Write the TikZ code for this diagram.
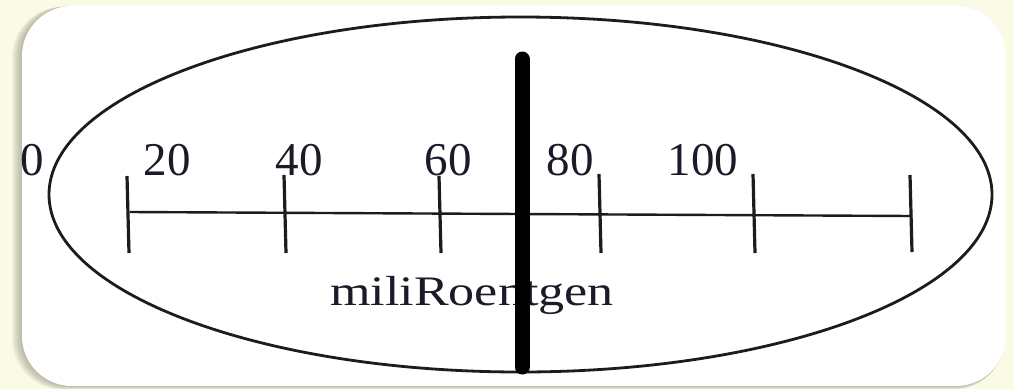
\documentclass[tikz,border=0pt]{standalone}
\usepackage{fontspec}
\setmainfont{Liberation Serif}
\definecolor{bgcream}{HTML}{FAFAE6}
\definecolor{shadowc}{HTML}{8A8A78}
\definecolor{inkc}{HTML}{1A1A28}
\definecolor{linec}{HTML}{1C1C1C}
\begin{document}
\begin{tikzpicture}[x=1pt,y=-1pt,
  tickline/.style={line width=3.2pt,draw=linec},
  axisline/.style={line width=2.4pt,draw=linec},
  numlabel/.style={font=\fontsize{47}{47}\selectfont,text=inkc,anchor=base,inner sep=0pt},
  unitlabel/.style={font=\fontsize{42}{42}\selectfont,text=inkc,anchor=base,inner sep=0pt,xscale=1.24},
  needle/.style={line width=15pt,line cap=round,draw=black}]
\useasboundingbox (0,0) rectangle (1014,389);
\fill[bgcream] (0,0) rectangle (1014,389);
% shadow
\foreach \i in {1,...,10}{
  \fill[shadowc,opacity=0.07,rounded corners=50pt] ({22-\i*1.0},{6+\i*0.1}) rectangle ({1006-\i*0.2},{386+\i*0.35});
}
\fill[white,rounded corners=50pt] (22,6) rectangle (1006,386);
% dial ellipse
\draw[line width=2.8pt,draw=linec] (520.5,194.5) ellipse [x radius=471.5, y radius=177.5];
% axis
\coordinate (a0) at (130,212);
\coordinate (a6) at (912,216);
\draw[axisline] (a0) -- (a6);
\foreach \n/\x/\yt/\yb in {t0/128/176/253, t1/285/175/253, t2/440/176/253, t3/600/174/253, t4/754/174/253, t5/911/175/252}{
  \coordinate (\n top) at ({\x-1},\yt);
  \coordinate (\n bot) at ({\x+1},\yb);
  \draw[tickline] (\n top) -- (\n bot);
}
% labels
\node[numlabel] (l0) at (32,175) {0};
\node[numlabel] (l20) at (167,175) {20};
\node[numlabel] (l40) at (299,175) {40};
\node[numlabel] (l60) at (448,175) {60};
\node[numlabel] (l80) at (570,175) {80};
\node[numlabel] (l100) at (703,175) {100};
\node[unitlabel] (unit) at (472,305) {miliRoentgen};
% needle
\coordinate (ntop) at (522,59);
\coordinate (nbot) at (522,367);
\draw[needle] (ntop) -- (nbot);
\end{tikzpicture}
\end{document}
